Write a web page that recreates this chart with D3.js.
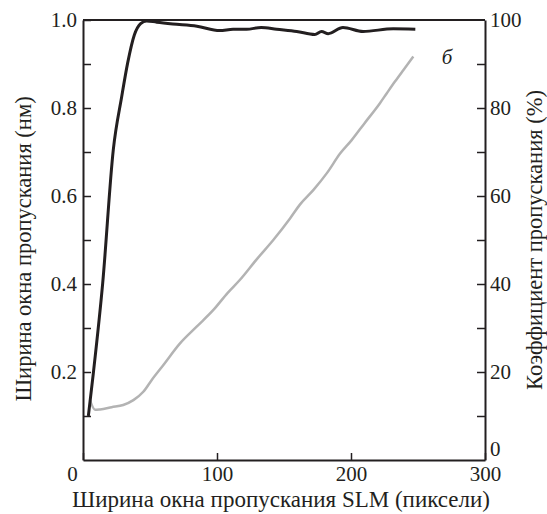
<!DOCTYPE html>
<html><head><meta charset="utf-8">
<script src="https://cdn.jsdelivr.net/npm/d3@7"></script>
<style>body{margin:0;background:#fff}svg{display:block}</style>
</head><body><svg id="c" width="547" height="514"></svg>
<script>
// Black curve: transmission coefficient (%) vs SLM window width (pixels)
const transX = [4, 7.7, 14.7, 22.6, 28.9, 33.3, 38.3, 43, 47.5, 55, 67, 85, 102, 112, 122, 133, 144.5, 159.5, 173, 178, 183, 194, 209, 231.5, 248];
const transY = [10, 19.7, 40.2, 70.5, 82.6, 90.2, 96.6, 99.2, 99.8, 99.5, 99.1, 98.6, 97.6, 97.9, 97.9, 98.3, 97.9, 97.4, 96.7, 97.4, 96.9, 98.3, 97.4, 98.0, 97.9];
// Grey curve: passband width (nm) vs SLM window width (pixels)
const widthX = [5.2, 9, 12.7, 21.4, 30, 37.6, 45, 51.3, 60, 72.4, 84.8, 97.3, 108, 117, 129.6, 142, 154.5, 162, 172, 182, 192, 200.5, 210, 221.6, 226.6, 232.8, 239, 246.5];
const widthY = [0.136, 0.114, 0.115, 0.120, 0.125, 0.136, 0.155, 0.182, 0.216, 0.265, 0.303, 0.341, 0.380, 0.409, 0.456, 0.500, 0.549, 0.581, 0.614, 0.652, 0.697, 0.727, 0.765, 0.811, 0.833, 0.860, 0.886, 0.917];
const xTicks = [0, 100, 200, 300];
const leftTicks = [0.1, 0.2, 0.3, 0.4, 0.5, 0.6, 0.7, 0.8, 0.9, 1.0];
const leftLabels = [0.2, 0.4, 0.6, 0.8, 1.0];
const rightTicks = [10, 20, 30, 40, 50, 60, 70, 80, 90, 100];
const rightLabels = [0, 20, 40, 60, 80, 100];
const xTitle = "Ширина окна пропускания SLM (пиксели)";
const leftTitle = "Ширина окна пропускания (нм)";
const rightTitle = "Коэффициент пропускания (%)";
const panelLabel = "б";

const FONT = "'Liberation Serif', 'Times New Roman', 'DejaVu Serif', serif";
const L = 83, R = 485, T = 20, B = 460;
const svg = d3.select("#c");
const x = d3.scaleLinear().domain([0, 300]).range([L, R]);
const yL = d3.scaleLinear().domain([0, 1]).range([B, T]);
const yR = d3.scaleLinear().domain([0, 100]).range([B, T]);
const ink = "#231f20";

// axes with inward ticks
const gx = svg.append("g").attr("transform", `translate(0,${B})`)
  .call(d3.axisBottom(x).tickValues(xTicks).tickSizeInner(-7).tickSizeOuter(0).tickPadding(6).tickFormat(d3.format("d")));
gx.selectAll("text").filter(d => d === 0).attr("dx", -11);

const gl = svg.append("g").attr("transform", `translate(${L},0)`)
  .call(d3.axisLeft(yL).tickValues(leftTicks).tickSizeInner(-8).tickSizeOuter(0).tickPadding(6)
    .tickFormat(d => leftLabels.some(v => Math.abs(v - d) < 1e-9) ? d3.format(".1f")(d) : ""));

const gr = svg.append("g").attr("transform", `translate(${R},0)`)
  .call(d3.axisRight(yR).tickValues(rightTicks.concat([0])).tickSizeInner(-8).tickSizeOuter(0).tickPadding(5)
    .tickFormat(d => rightLabels.includes(d) ? d3.format("d")(d) : ""));
gr.selectAll(".tick").filter(d => d === 0).select("line").remove();
gr.selectAll(".tick").filter(d => d === 100).select("line").remove();
gr.selectAll(".tick").filter(d => d === 0).select("text").attr("dy", "-0.2em");

[gx, gl, gr].forEach(g => {
  g.attr("font-family", null).attr("font-size", null);
  g.select(".domain").attr("stroke", ink).attr("stroke-width", 2);
  g.selectAll(".tick line").attr("stroke", ink).attr("stroke-width", 1.5);
  g.selectAll("text").style("fill", ink).style("font-family", FONT).style("font-size", "21px");
});
// top frame line
svg.append("line").attr("x1", x(0)).attr("x2", x(300)).attr("y1", yL(1)).attr("y2", yL(1))
  .attr("stroke", ink).attr("stroke-width", 2);

// curves
const lineW = d3.line().x(d => x(d[0])).y(d => yL(d[1])).curve(d3.curveMonotoneX);
svg.append("path").datum(widthX.map((v, i) => [v, widthY[i]]))
  .attr("d", lineW).attr("fill", "none").attr("stroke", "#b3b3b3").attr("stroke-width", 2.5);
const lineT = d3.line().x(d => x(d[0])).y(d => yR(d[1])).curve(d3.curveMonotoneX);
svg.append("path").datum(transX.map((v, i) => [v, transY[i]]))
  .attr("d", lineT).attr("fill", "none").attr("stroke", ink).attr("stroke-width", 3);

// titles
function title(sel, size) { return sel.style("font-family", FONT).style("font-size", size + "px").style("fill", ink).attr("text-anchor", "middle"); }
title(svg.append("text").attr("x", (L + R) / 2 - 3).attr("y", 507), 23).text(xTitle);
title(svg.append("text").attr("transform", `translate(31,${(T + B) / 2 + 9}) rotate(-90)`), 22.5).text(leftTitle);
title(svg.append("text").attr("transform", `translate(542,${(T + B) / 2}) rotate(-90)`), 22.5).text(rightTitle);
title(svg.append("text").attr("x", 447).attr("y", 64), 21).style("font-style", "italic").text(panelLabel);
</script></body></html>
